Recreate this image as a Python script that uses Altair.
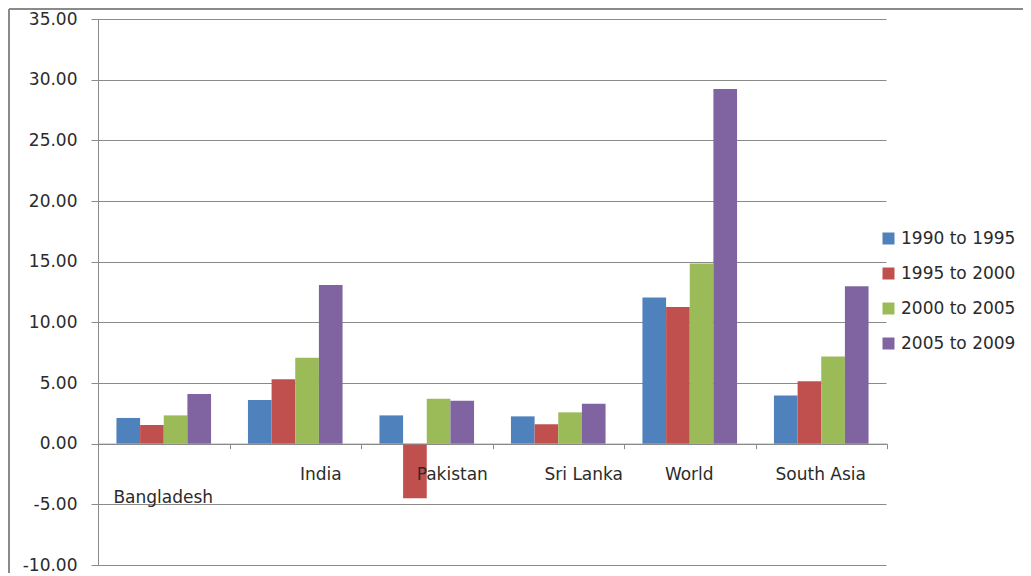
import altair as alt
import pandas as pd

categories = ["Bangladesh", "India", "Pakistan", "Sri Lanka", "World", "South Asia"]
periods = ["1990 to 1995", "1995 to 2000", "2000 to 2005", "2005 to 2009"]
v_1990_1995 = [2.12, 3.60, 2.33, 2.25, 12.05, 3.96]
v_1995_2000 = [1.54, 5.30, -4.50, 1.60, 11.26, 5.14]
v_2000_2005 = [2.33, 7.08, 3.70, 2.58, 14.84, 7.19]
v_2005_2009 = [4.09, 13.08, 3.53, 3.30, 29.23, 12.98]
colors = ["#4F81BD", "#C0504D", "#9BBB59", "#8064A2"]

series = [v_1990_1995, v_1995_2000, v_2000_2005, v_2005_2009]
rows = []
for p, vals in zip(periods, series):
    for c, v in zip(categories, vals):
        rows.append({"country": c, "period": p, "value": v})
df = pd.DataFrame(rows)

W, H = 789, 546
FONT = "DejaVu Sans"
GRID = "#8a8a8a"
TXT = "#2b2b2b"

bars = alt.Chart(df).mark_bar().encode(
    x=alt.X("country:N", sort=categories, title=None,
            scale=alt.Scale(paddingInner=0, paddingOuter=0),
            axis=alt.Axis(
                orient="bottom", offset=-(H * 10 / 45), zindex=1,
                tickBand="extent", tickSize=5, tickColor=GRID, domainColor=GRID,
                labelAngle=0, labelFont=FONT, labelFontSize=17, labelColor=TXT,
                labelBaseline="top",
                labelPadding={"condition": {"test": "datum.value === 'Bangladesh'", "value": 41}, "value": 18},
                labelOffset={"condition": {"test": "indexof(['India','Pakistan','Sri Lanka'], datum.value) >= 0", "value": 25}, "value": -1},
                grid=False)),
    xOffset=alt.XOffset("period:N", sort=periods,
                        scale=alt.Scale(paddingInner=0, paddingOuter=0.78)),
    y=alt.Y("value:Q", title=None,
            scale=alt.Scale(domain=[-10, 35], nice=False, zero=False),
            axis=alt.Axis(values=list(range(-10, 40, 5)),
                          labelExpr="replace(format(datum.value, '.2f'), '\u2212', '-')",
                          tickSize=7, tickColor=GRID, domainColor=GRID,
                          gridColor=GRID, grid=True, labelPadding=14,
                          labelFont=FONT, labelFontSize=17, labelColor=TXT)),
    color=alt.Color("period:N", sort=periods, title=None,
                    scale=alt.Scale(domain=periods, range=colors),
                    legend=alt.Legend(orient="none", legendX=782, legendY=211,
                                      symbolType="square", symbolSize=144,
                                      symbolStrokeWidth=0, labelOffset=4,
                                      rowPadding=17, padding=0,
                                      labelFont=FONT, labelFontSize=17,
                                      labelColor=TXT, labelLimit=200)),
)

one = pd.DataFrame({"k": [0]})
frame_left = alt.Chart(one).mark_rule(color="#8a8a8a", strokeWidth=2).encode(
    x=alt.value(-89), y=alt.value(-10), y2=alt.value(H + 20))
frame_top = alt.Chart(one).mark_rule(color="#8a8a8a", strokeWidth=2).encode(
    x=alt.value(-89), x2=alt.value(940), y=alt.value(-10))
edge_mask = alt.Chart(one).mark_rule(color="white", strokeWidth=2).encode(
    x=alt.value(W + 0.5), y=alt.value(-2), y2=alt.value(H + 2))

chart = alt.layer(bars, edge_mask, frame_left, frame_top).properties(
    width=W, height=H,
    background="white",
    autosize=alt.AutoSizeParams(type="none"),
    padding={"left": 90, "top": 11, "right": 136, "bottom": 8},
).configure_view(stroke=None)

chart.save("out.html", embed_options={"renderer": "svg", "actions": False})
